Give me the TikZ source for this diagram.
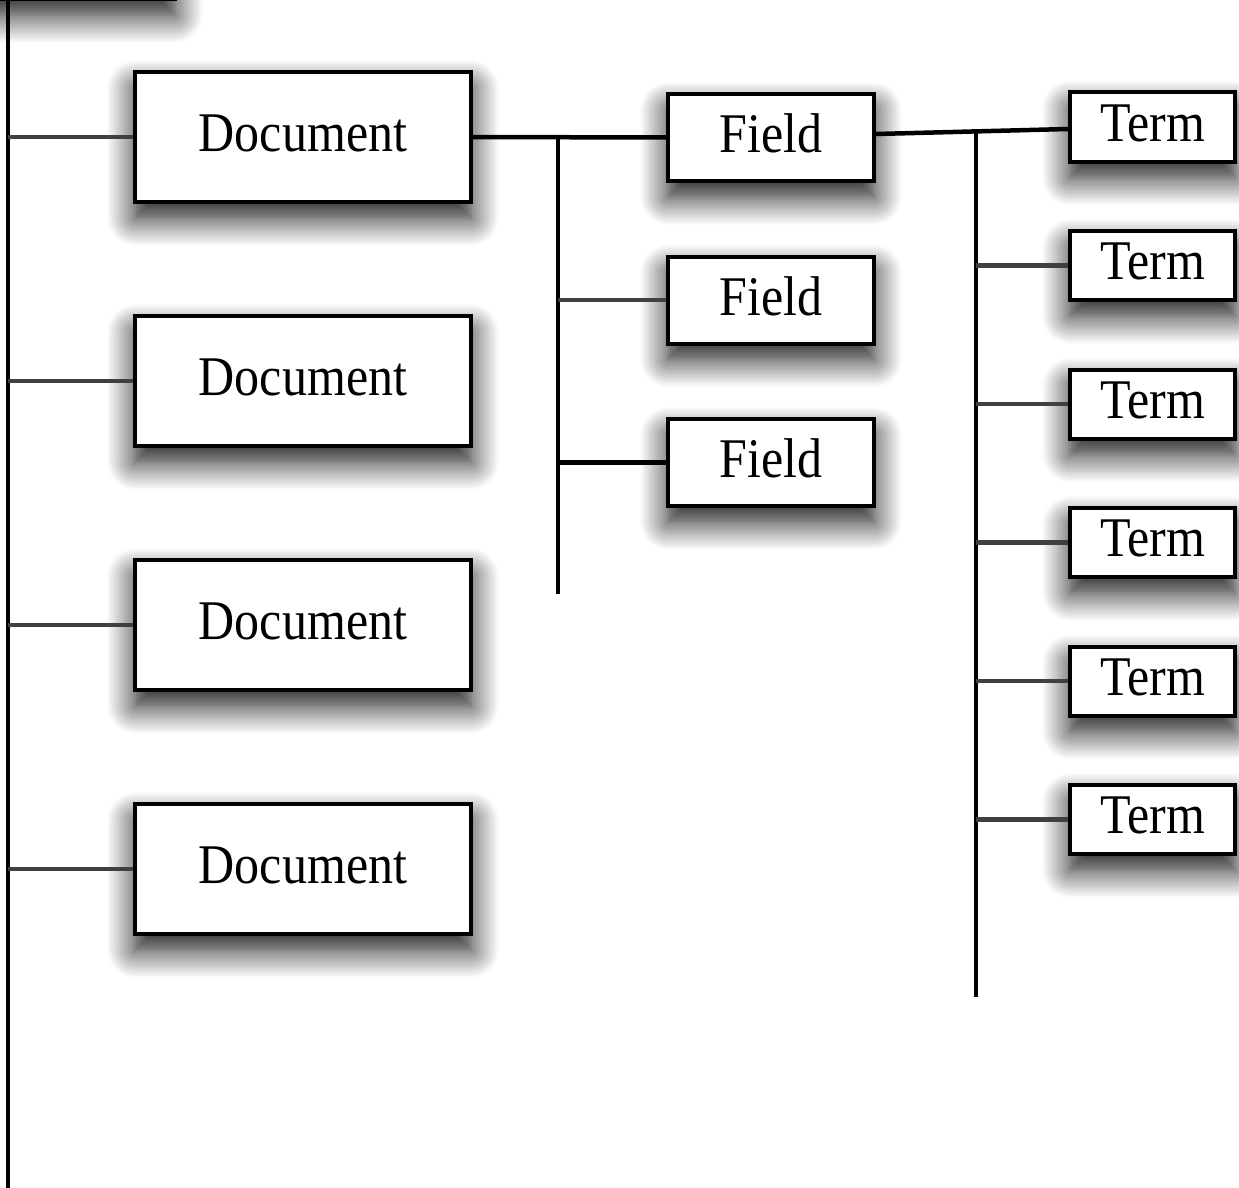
\documentclass[tikz,border=0pt]{standalone}
\usepackage{fontspec}
\setmainfont{Liberation Serif}
\usetikzlibrary{shadows.blur}
\newcommand\vtxt[1]{\scalebox{1}[1.12]{#1}}
\begin{document}
\begin{tikzpicture}[x=1pt,y=-1pt,
  box/.style={draw=black, line width=4pt, fill=white, inner sep=0pt, text depth=8pt,
     font=\fontsize{50}{60}\selectfont,
     blur shadow={shadow xshift=0pt, shadow yshift=-16pt, shadow blur radius=28pt,
                  shadow opacity=95, shadow blur steps=14}},
  docbox/.style={box, minimum width=336pt, minimum height=130pt},
  fieldbox/.style={box, minimum width=206pt, minimum height=87pt},
  termbox/.style={box, minimum width=165pt, minimum height=69pt},
  link/.style={line width=4.5pt, draw=black!75},
  spine/.style={line width=4.5pt, draw=black}]
\useasboundingbox (0,0) rectangle (1239,1188);

% partly visible box at the top left
\node[box, minimum width=274pt, minimum height=119pt] (top) at (38,-60.5) {};

% documents
\node[docbox] (d1) at (303,137) {\vtxt{Document}};
\node[docbox] (d2) at (303,381) {\vtxt{Document}};
\node[docbox] (d3) at (303,625) {\vtxt{Document}};
\node[docbox] (d4) at (303,869) {\vtxt{Document}};

% fields
\node[fieldbox] (f1) at (771,137.5) {\vtxt{Field}};
\node[fieldbox] (f2) at (771,300) {\vtxt{Field}};
\node[fieldbox] (f3) at (771,462.5) {\vtxt{Field}};

% terms
\node[termbox] (t1) at (1152.5,127) {\vtxt{Term}};
\node[termbox] (t2) at (1152.5,265.5) {\vtxt{Term}};
\node[termbox] (t3) at (1152.5,404) {\vtxt{Term}};
\node[termbox] (t4) at (1152.5,542.5) {\vtxt{Term}};
\node[termbox] (t5) at (1152.5,681) {\vtxt{Term}};
\node[termbox] (t6) at (1152.5,819.5) {\vtxt{Term}};

% spines
\coordinate (sLtop) at (8,-10);
\coordinate (sLbot) at (8,1200);
\coordinate (sFtop) at (558,136);
\coordinate (sFbot) at (558,594);
\coordinate (sTtop) at (976,131);
\coordinate (sTbot) at (976,997);
\draw[spine] (sLtop) -- (sLbot);
\draw[spine] (sFtop) -- (sFbot);
\draw[spine] (sTtop) -- (sTbot);

% document connectors
\foreach \n in {d1,d2,d3,d4}
  \draw[link] (\n.west) -- (\n.west -| sLtop);

% document to fields
\draw[spine] (d1.east) -- (f1.west);
\draw[link] (f2.west) -- (f2.west -| sFtop);
\draw[spine] (f3.west) -- (f3.west -| sFtop);

% field to terms
\draw[spine] ([yshift=3.5pt]f1.east) -- ([yshift=-2pt]t1.west);
\foreach \n in {t2,t3,t4,t5,t6}
  \draw[link] (\n.west) -- (\n.west -| sTtop);
\end{tikzpicture}
\end{document}
